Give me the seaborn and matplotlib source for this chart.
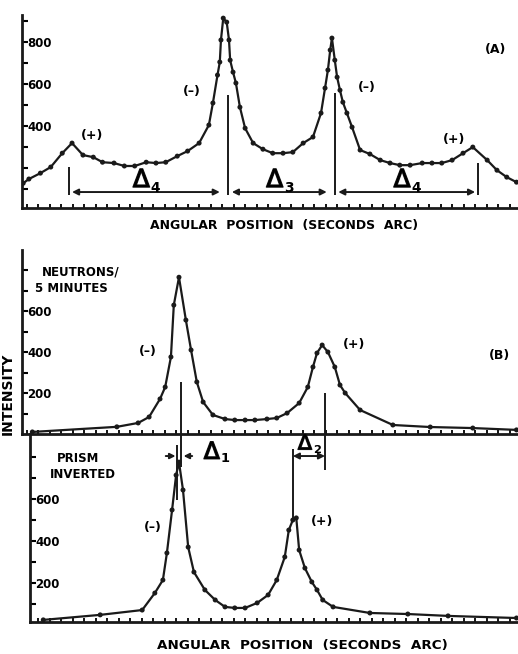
#Libraries
import numpy as np
import pandas as pd
import matplotlib
matplotlib.use("Agg")
import matplotlib.pyplot as plt
import matplotlib.patheffects as pe
import seaborn as sns

# Data
# x in scale divisions (seconds arc), y in neutrons / 5 minutes
# ==============================================================================
# (A) both prisms
a_x = [0.1, 0.6, 1.6, 2.5, 3.5, 4.35, 5.3, 6.2, 7.0, 8.0, 8.9, 9.8, 10.8, 11.65,
       12.5, 13.5, 14.4, 15.4, 16.25, 16.6, 17.0, 17.2, 17.3, 17.5, 17.8, 18.0,
       18.1, 18.35, 18.6, 18.95, 19.4, 20.1, 20.95, 21.8, 22.7, 23.55, 24.45,
       25.3, 26.0, 26.35, 26.6, 26.8, 26.95, 27.2, 27.4, 27.65, 27.9, 28.25,
       28.7, 29.4, 30.25, 31.15, 32.0, 32.85, 33.75, 34.8, 35.65, 36.5, 37.4,
       38.35, 39.2, 40.45, 41.3, 42.15, 43.0]
a_y = [128, 148, 176, 205, 271, 319, 262, 252, 228, 224, 210, 210, 228, 224,
       228, 257, 281, 319, 405, 510, 643, 705, 810, 914, 895, 810,
       714, 657, 605, 490, 390, 319, 290, 271, 271, 276, 319,
       348, 462, 581, 667, 762, 819, 714, 633, 571, 514, 462,
       395, 286, 267, 238, 224, 214, 214, 224, 224, 224, 238,
       271, 300, 238, 190, 157, 133]

# (B)
b_x = [0.9, 8.25, 10.1, 11.05, 12.0, 12.45, 12.95, 13.2, 13.65, 14.25, 14.7,
       15.2, 15.75, 16.6, 17.65, 18.5, 19.4, 20.25, 21.3, 22.15, 23.05, 24.1,
       24.85, 25.3, 25.65, 26.1, 26.6, 27.2, 27.65, 28.1, 29.4, 32.25, 35.5,
       39.2, 43.0]
b_y = [10, 35, 54, 83, 171, 229, 376, 629, 765, 556, 410,
       254, 156, 93, 73, 68, 68, 68, 73, 78, 102, 151,
       229, 327, 395, 434, 400, 327, 239, 200, 117, 44, 34,
       29, 20]

# prism inverted
c_x = [1.85, 6.8, 10.45, 11.55, 12.25, 12.6, 13.05, 13.4, 13.65, 14.0, 14.45,
       14.95, 15.9, 16.8, 17.65, 18.5, 19.4, 20.45, 21.4, 22.15, 22.85, 23.2,
       23.55, 23.85, 24.1, 24.6, 25.2, 25.65, 26.15, 27.05, 30.25, 33.55,
       37.05, 43.0]
c_y = [24, 48, 71, 152, 214, 343, 548, 714, 776, 643, 371,
       252, 167, 119, 86, 81, 81, 105, 143, 214, 324, 452,
       500, 510, 357, 271, 205, 167, 119, 86, 57, 52,
       43, 33]

# peak markers and separations
a_marks_x = [4.1, 17.9, 27.2, 39.65]
a_marks_top = [205, 548, 557, 224]
a_spans = [(4.35, 17.2), (18.25, 26.5), (27.5, 39.4)]
a_span_names = ["4", "3", "4"]

b_marks_x = [13.85, 26.35]
b_marks_top = [254, 200]
b_marks_bottom = [-161, -176]

c_marks_x = [13.45, 23.55]
c_marks_top = [857, 838]
c_marks_bottom = [595, 500]

W, H = 518, 654
XMAX = 43.13

sns.set_theme(style="white")
plt.rcParams['font.family'] = ['DejaVu Sans']
plt.rcParams['font.weight'] = 'bold'
for k in ['text.color', 'axes.labelcolor', 'xtick.color', 'ytick.color',
          'axes.edgecolor']:
    plt.rcParams[k] = 'black'


def fx(px):
    return px / W


def fy(py):
    return 1 - py / H


def delta(ax, x, y, n, size):
    # outlined Greek capital delta (thickened) plus a small subscript
    ax.text(x, y, '\u0394', fontsize=size, fontweight='normal',
            ha='center', va='center',
            path_effects=[pe.withStroke(linewidth=0.9, foreground='k')])
    ax.annotate(n, xy=(x, y), xytext=(size * 0.38, -size * 0.3),
                textcoords='offset points', fontsize=size * 0.55,
                fontweight='bold', ha='left', va='center')


def panel(ax, x, y, ylim, top, labels):
    sns.lineplot(x=x, y=y, color='k', lw=1.6, ax=ax, sort=False)
    sns.scatterplot(x=x, y=y, color='k', s=13, edgecolor='none', ax=ax, zorder=3)
    ax.set_ylim(*ylim)
    ticks = list(range(100, top, 100))
    ax.set_yticks(ticks, [str(t) if t in labels else '' for t in ticks])
    ax.tick_params(axis='y', direction='in', length=4, width=1.5, pad=-4,
                   labelsize=8.5, left=True)
    plt.setp(ax.get_yticklabels(), ha='left', fontweight='bold')
    ax.set_xticks(np.arange(0.4, XMAX, 1.0))
    ax.tick_params(axis='x', direction='in', length=3, width=1.3,
                   labelbottom=False, bottom=True)
    for s in ['top', 'right']:
        ax.spines[s].set_visible(False)
    for s in ['left', 'bottom']:
        ax.spines[s].set_linewidth(2)
        ax.spines[s].set_color('k')
    ax.set_xlabel('')
    ax.set_ylabel('')
    ax.patch.set_alpha(0)


fig = plt.figure(figsize=(W / 100, H / 100), dpi=100)
ax_a = fig.add_axes([fx(22), fy(208), fx(496), 193 / H])
ax_b = fig.add_axes([fx(22), fy(434), fx(496), 184 / H])
ax_c = fig.add_axes([fx(30), fy(622), fx(488), 188 / H])

panel(ax_a, a_x, a_y, (10, 929), 1000, [400, 600, 800])
ax_a.set_xlim(0, XMAX)
panel(ax_b, b_x, b_y, (0, 898), 900, [200, 400, 600])
ax_b.set_xlim(0, XMAX)
panel(ax_c, c_x, c_y, (14, 910), 900, [200, 400, 600])
ax_c.set_xlim(8 / 11.5, XMAX)

arrow = dict(arrowstyle='<|-|>', color='k', lw=1.4, shrinkA=0, shrinkB=0,
             mutation_scale=9)
head = dict(arrowstyle='-|>', color='k', lw=1.4, shrinkA=0, shrinkB=0,
            mutation_scale=8)

# Panel A annotations
ax_a.vlines(a_marks_x, 70, a_marks_top, color='k', lw=1.4)
for (x0, x1), n in zip(a_spans, a_span_names):
    ax_a.annotate('', xy=(x1, 86), xytext=(x0, 86), arrowprops=arrow)
    delta(ax_a, (x0 + x1) / 2 - 0.4, 143, n, 18)

# Panel B / C markers crossing the panels
ax_b.vlines(b_marks_x, b_marks_bottom, b_marks_top, color='k', lw=1.4,
            clip_on=False)
ax_c.vlines(c_marks_x, c_marks_bottom, c_marks_top, color='k', lw=1.4)
ax_c.annotate('', xy=(c_marks_x[0] - 0.1, 805), xytext=(12.5, 805), arrowprops=head)
ax_c.annotate('', xy=(b_marks_x[0] + 0.2, 805), xytext=(14.8, 805), arrowprops=head)
delta(ax_c, 16.5, 825, '1', 17)
ax_c.annotate('', xy=(b_marks_x[1], 805), xytext=(c_marks_x[1], 805), arrowprops=arrow)
delta(ax_c, 24.6, 865, '2', 15)

# Texts
txt = dict(fontsize=9, fontweight='bold', ha='center', va='center')
fig.text(fx(92), fy(135), '(+)', **txt)
fig.text(fx(192), fy(91), '(\u2013)', **txt)
fig.text(fx(367), fy(88), '(\u2013)', **txt)
fig.text(fx(454), fy(140), '(+)', **txt)
fig.text(fx(496), fy(50), '(A)', **txt)

fig.text(fx(148), fy(352), '(\u2013)', **txt)
fig.text(fx(354), fy(345), '(+)', **txt)
fig.text(fx(500), fy(356), '(B)', **txt)
fig.text(fx(42), fy(272), 'NEUTRONS/', fontsize=8.5, ha='left', va='center')
fig.text(fx(35), fy(288), '5 MINUTES', fontsize=8.5, ha='left', va='center')

fig.text(fx(153), fy(528), '(\u2013)', **txt)
fig.text(fx(322), fy(521), '(+)', **txt)
fig.text(fx(57), fy(458), 'PRISM', fontsize=8.5, ha='left', va='center')
fig.text(fx(50), fy(474), 'INVERTED', fontsize=8.5, ha='left', va='center')

fig.text(fx(8), fy(394), 'INTENSITY', fontsize=10, rotation=90,
         ha='center', va='center')
fig.text(fx(284), fy(225), 'ANGULAR  POSITION  (SECONDS  ARC)', fontsize=9,
         ha='center', va='center')
fig.text(fx(302), fy(646), 'ANGULAR  POSITION  (SECONDS  ARC)', fontsize=9.7,
         ha='center', va='center')

fig.savefig('out.png', dpi=100)
